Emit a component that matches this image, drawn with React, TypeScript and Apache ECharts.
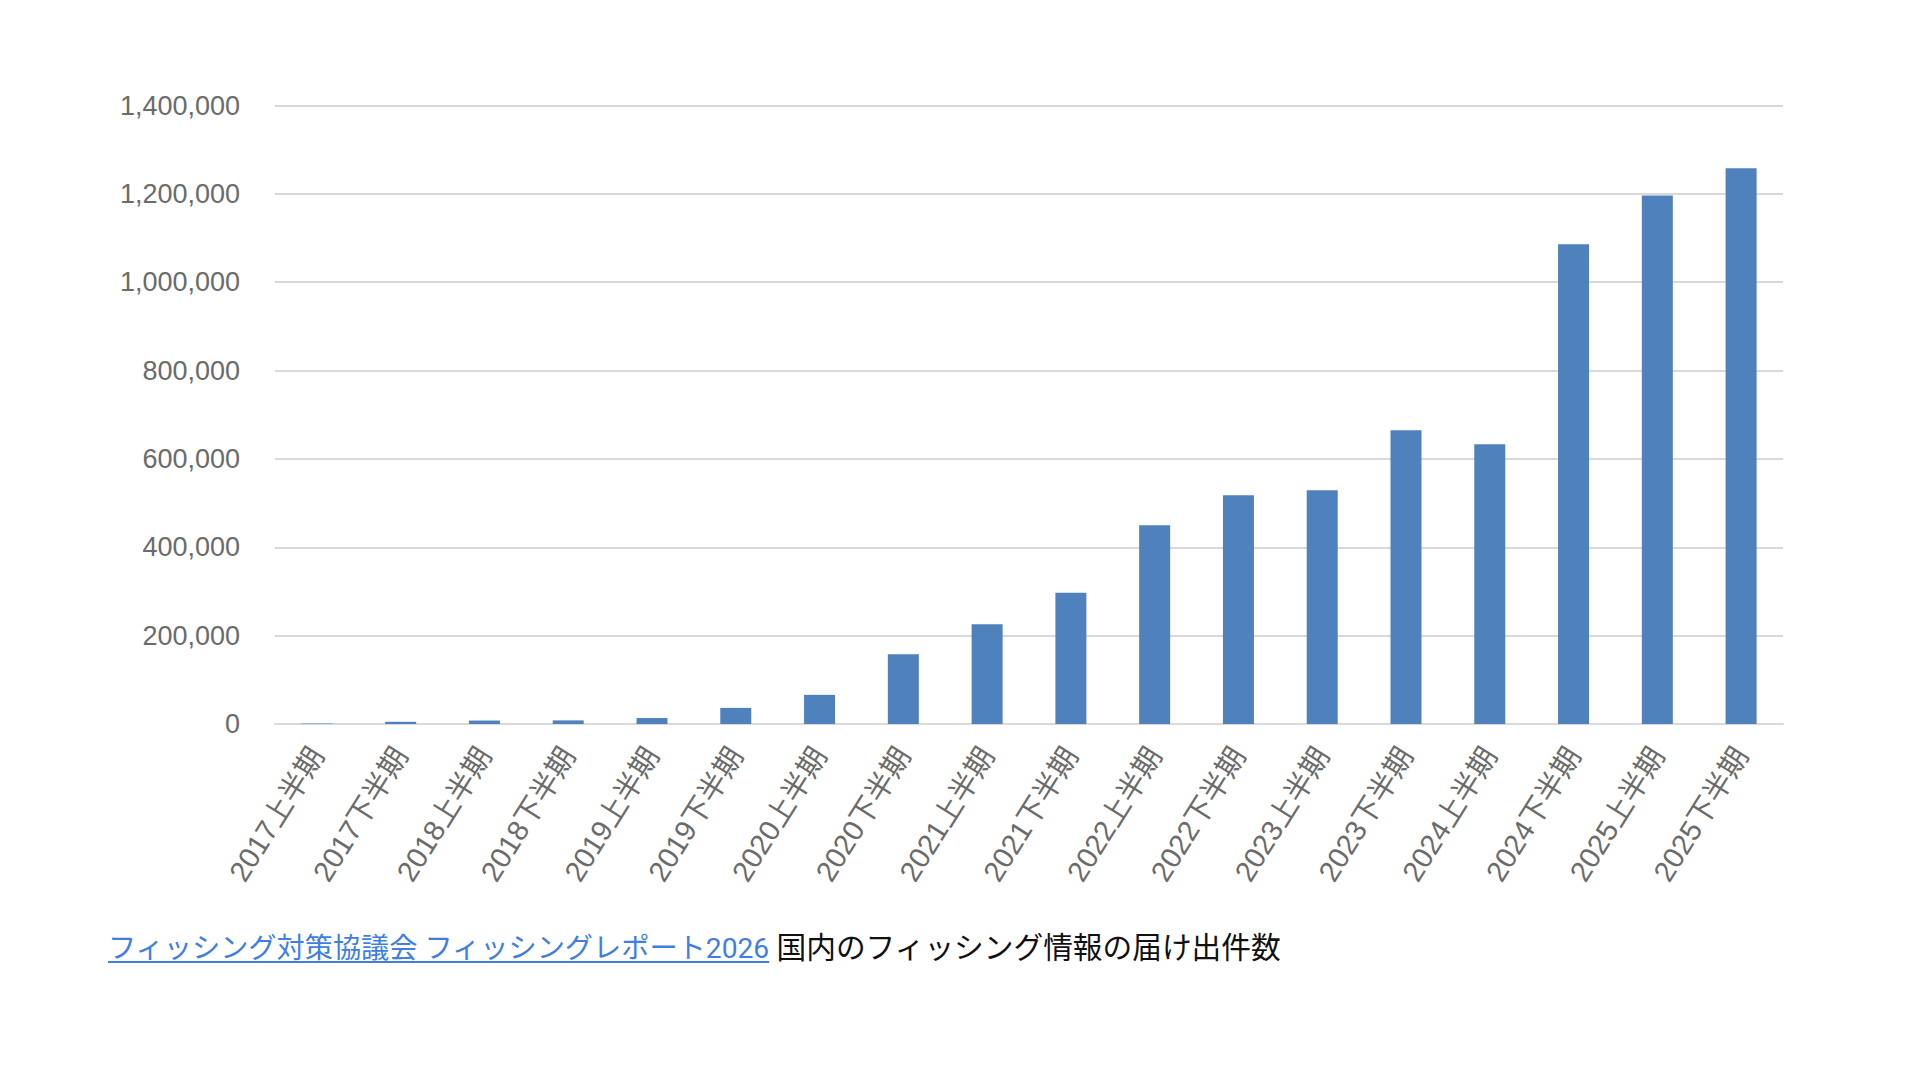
import React, { useEffect, useRef } from "react";
import * as echarts from "echarts";

const categories: string[] = [
  "2017上半期", "2017下半期", "2018上半期", "2018下半期", "2019上半期", "2019下半期",
  "2020上半期", "2020下半期", "2021上半期", "2021下半期", "2022上半期", "2022下半期",
  "2023上半期", "2023下半期", "2024上半期", "2024下半期", "2025上半期", "2025下半期",
];

const reportCounts: number[] = [
  1000, 5000, 7800, 8200, 13500, 36500,
  66000, 158000, 226000, 297000, 450000, 518000,
  529000, 665000, 633000, 1086000, 1196000, 1258000,
];

const yMin = 0;
const yMax = 1400000;
const yInterval = 200000;

const linkText = "フィッシング対策協議会 フィッシングレポート2026";
const captionText = "国内のフィッシング情報の届け出件数";

export default function App() {
  const ref = useRef<HTMLDivElement>(null);

  useEffect(() => {
    if (!ref.current) return;
    const chart = echarts.init(ref.current, undefined, { renderer: "svg" });
    const labelFont = "'Liberation Sans', 'Noto Sans CJK JP', sans-serif";
    chart.setOption({
      animation: false,
      backgroundColor: "#ffffff",
      grid: { left: 275, right: 137, top: 105.5, bottom: 356, containLabel: false },
      xAxis: {
        type: "category",
        data: categories,
        boundaryGap: true,
        axisLine: { show: true, lineStyle: { color: "#d9d9d9", width: 2 } },
        axisTick: { show: false },
        axisLabel: {
          rotate: 58,
          interval: 0,
          margin: 26,
          color: "#6b6b6b",
          fontSize: 29,
          fontFamily: labelFont,
        },
      },
      yAxis: {
        type: "value",
        min: yMin,
        max: yMax,
        interval: yInterval,
        axisLine: { show: false },
        axisTick: { show: false },
        splitLine: { show: true, lineStyle: { color: "#d9d9d9", width: 2 } },
        axisLabel: {
          margin: 35,
          color: "#6b6b6b",
          fontSize: 27,
          fontFamily: labelFont,
          formatter: (v: number) => v.toLocaleString("en-US"),
        },
      },
      series: [
        {
          type: "bar",
          data: reportCounts,
          barWidth: 31,
          itemStyle: { color: "#4f81bd" },
        },
      ],
    });
    return () => chart.dispose();
  }, []);

  return (
    <div style={{ position: "fixed", left: 0, top: 0, width: 1920, height: 1080, background: "#fff" }}>
      <div ref={ref} style={{ position: "absolute", left: 0, top: 0, width: 1920, height: 1080 }} />
      <div
        style={{
          position: "absolute",
          left: 108,
          top: 931,
          fontFamily: "Roboto, 'Noto Sans CJK JP', sans-serif",
          lineHeight: "34px",
          whiteSpace: "nowrap",
          color: "#111111",
        }}
      >
        <span
          style={{
            fontSize: 28.2,
            color: "#3f7fe3",
            textDecoration: "underline",
            textDecorationThickness: "2px",
            textUnderlineOffset: "3px",
          }}
        >
          {linkText}
        </span>
        <span style={{ fontSize: 29.7 }}> {captionText}</span>
      </div>
    </div>
  );
}
